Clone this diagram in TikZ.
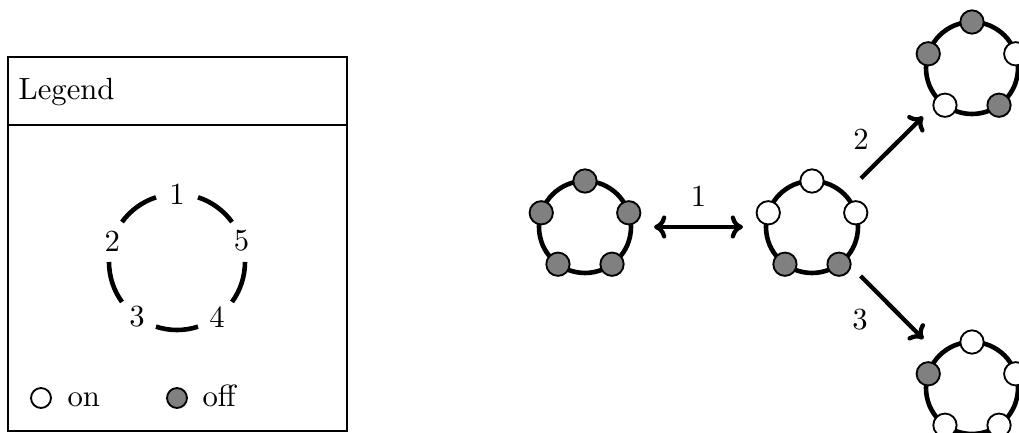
\documentclass[tikz,border=0pt]{standalone}
\usetikzlibrary{arrows.meta}
\begin{document}
\begin{tikzpicture}[x=0.3257pt,y=-0.3257pt,
  ring/.style={circle, draw, line width=1.5pt, minimum size=29.96pt, inner sep=0pt, outer sep=0pt},
  swdot/.style={circle, draw, line width=0.6pt, minimum size=7.6pt, inner sep=0pt},
  swon/.style={swdot, fill=white},
  swoff/.style={swdot, fill=black!50},
  keydot/.style={circle, draw, line width=0.6pt, minimum size=6.5pt, inner sep=0pt},
  conn/.style={line width=1.4pt, shorten <=7.5pt, shorten >=7.5pt},
  lbl/.style={inner sep=0pt},
  keyarc/.style={line width=1.5pt},
  box/.style={draw, line width=0.6pt, inner sep=0pt}]
\useasboundingbox (0,0) rectangle (1019,433);
\clip (0,0) rectangle (1019,433);

% ---------- legend ----------
\node[box, minimum width=110.4pt, minimum height=121.8pt] (legend) at (177.5,244) {};
\draw[line width=0.6pt] (legend.west |- 0,125) -- (legend.east |- 0,125);
\node[lbl, anchor=base west] (legendtitle) at (18,100) {Legend};

\coordinate (kc) at (177,262);
\foreach \k in {1,...,5}{
  \node[lbl] (key\k) at ([shift={({-90-72*(\k-1)}:68)}]kc) {\k};
  \draw[keyarc] ([shift={({-108-72*(\k-1)}:68)}]kc) arc[start angle={-108-72*(\k-1)}, end angle={-144-72*(\k-1)}, radius=68];
}
\node[keydot, fill=white] (keyon) at (41,398) {};
\node[lbl, anchor=base west] (keyontext) at (67,407) {on};
\node[keydot, fill=black!50] (keyoff) at (177,398) {};
\node[lbl, anchor=base west] (keyofftext) at (202,407) {off};

% ---------- states ----------
\node[ring] (s0) at (585,227) {};
\foreach \k/\c in {1/swoff,2/swoff,3/swoff,4/swoff,5/swoff}
  \node[\c] (s0d\k) at ([shift={({-90-72*(\k-1)}:46)}]s0) {};

\node[ring] (s1) at (812,227) {};
\foreach \k/\c in {1/swon,2/swon,3/swoff,4/swoff,5/swon}
  \node[\c] (s1d\k) at ([shift={({-90-72*(\k-1)}:46)}]s1) {};

\node[ring] (s2) at (972,68) {};
\foreach \k/\c in {1/swoff,2/swoff,3/swon,4/swoff,5/swon}
  \node[\c] (s2d\k) at ([shift={({-90-72*(\k-1)}:46)}]s2) {};

\node[ring] (s3) at (972,388) {};
\foreach \k/\c in {1/swon,2/swoff,3/swon,4/swon,5/swon}
  \node[\c] (s3d\k) at ([shift={({-90-72*(\k-1)}:46)}]s3) {};

% ---------- connectors ----------
\draw[conn, {To[length=4pt,width=7.5pt]}-{To[length=4pt,width=7.5pt]}] (s0) -- node[midway, yshift=10.1pt] (l1) {1} (s1);
\draw[conn, -{To[length=4pt,width=7.5pt]}] (s1) -- node[midway, xshift=-10.1pt, yshift=2.6pt] (l2) {2} (s2);
\draw[conn, -{To[length=4pt,width=7.5pt]}] (s1) -- node[midway, xshift=-10.4pt, yshift=-3.9pt] (l3) {3} (s3);
\end{tikzpicture}
\end{document}
